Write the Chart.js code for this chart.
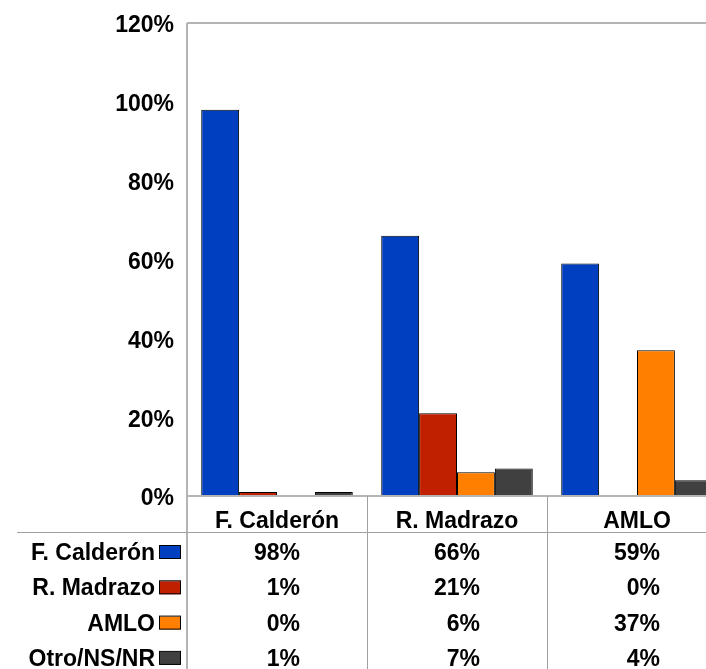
<!DOCTYPE html>
<html>
<head>
<meta charset="utf-8">
<script src="https://cdn.jsdelivr.net/npm/chart.js@4"></script>
<style>
    html, body { margin: 0; padding: 0; background: #fff; overflow: hidden; }
    #wrap { width: 706px; height: 669px; overflow: hidden; }
</style>
</head>
<body>
<div id="wrap"><canvas id="mainChart" width="740" height="669"></canvas></div>
<script>
const categories = ['F. Calderón', 'R. Madrazo', 'AMLO']
const seriesNames = ['F. Calderón', 'R. Madrazo', 'AMLO', 'Otro/NS/NR']
const calderon = [98, 66, 59]
const madrazo = [1, 21, 0]
const amlo = [0, 6, 37]
const otro = [1, 7, 4]
const yTicks = [0, 20, 40, 60, 80, 100, 120]

const colors = ['#0040C0', '#C02000', '#FF8000', '#404040']
const FONT = 'bold 23px "Liberation Sans", Arial, sans-serif'

const series = [calderon, madrazo, amlo, otro].map((values, i) => {
    return {
        label: seriesNames[i],
        data: values,
        backgroundColor: colors[i],
        borderColor: '#000',
        borderWidth: 1,
        barPercentage: 1,
        categoryPercentage: 0.842
    }
})

// frame + data table drawn under the plot
const dataTable = {
    id: 'dataTable',
    afterDraw(chart) {
        const ctx = chart.ctx
        const area = chart.chartArea
        const x = chart.scales.x
        const step = x.getPixelForValue(1) - x.getPixelForValue(0)
        const headerBottom = area.bottom + 36
        ctx.save()

        // plot frame
        ctx.strokeStyle = '#b4b4b4'
        ctx.lineWidth = 2
        ctx.beginPath()
        ctx.moveTo(area.left, area.top)
        ctx.lineTo(area.right, area.top)
        ctx.moveTo(area.left, area.top)
        ctx.lineTo(area.left, chart.height)
        ctx.moveTo(area.left, area.bottom)
        ctx.lineTo(area.right, area.bottom)
        ctx.stroke()

        // table lines
        ctx.strokeStyle = '#a0a0a0'
        ctx.lineWidth = 1
        ctx.beginPath()
        ctx.moveTo(17, headerBottom + 0.5)
        ctx.lineTo(area.right, headerBottom + 0.5)
        categories.forEach((c, i) => {
            if (i === 0) return
            const bx = Math.round(x.getPixelForValue(i) - step / 2) + 0.5
            ctx.moveTo(bx, area.bottom)
            ctx.lineTo(bx, chart.height)
        })
        ctx.stroke()

        ctx.font = FONT
        ctx.fillStyle = '#000'
        ctx.textBaseline = 'alphabetic'

        // header
        ctx.textAlign = 'center'
        categories.forEach((c, i) => {
            ctx.fillText(c, x.getPixelForValue(i), 528)
        })

        // rows: legend key + values
        chart.data.datasets.forEach((ds, r) => {
            const base = 560 + r * 35.3
            ctx.textAlign = 'right'
            ctx.fillStyle = '#000'
            ctx.fillText(ds.label, 155, base)
            ctx.fillStyle = ds.backgroundColor
            ctx.fillRect(159.5, base - 14, 21, 13)
            ctx.strokeStyle = '#000'
            ctx.strokeRect(159.5, base - 14.5, 21, 13)
            ctx.fillStyle = '#000'
            ds.data.forEach((v, i) => {
                ctx.fillText(v + '%', x.getPixelForValue(i) + 23, base)
            })
        })
        ctx.restore()
    }
}

new Chart('mainChart', {
    type: 'bar',
    data: {
        labels: categories,
        datasets: series
    },
    options: {
        responsive: false,
        animation: false,
        layout: {
            padding: { top: 23, right: 13, bottom: 173, left: 0 }
        },
        plugins: {
            legend: { display: false },
            tooltip: { enabled: false }
        },
        scales: {
            x: {
                display: false
            },
            y: {
                min: 0,
                max: 120,
                afterFit(scale) {
                    scale.width = 187
                    scale.paddingTop = 0
                    scale.paddingBottom = 0
                },
                afterBuildTicks(scale) { scale.ticks = yTicks.map(v => ({ value: v })) },
                grid: { display: false, drawTicks: false },
                border: { display: false },
                ticks: {
                    padding: 13,
                    labelOffset: 3,
                    color: '#000',
                    font: { family: '"Liberation Sans", Arial, sans-serif', size: 23, weight: 'bold' },
                    callback: v => v + '%'
                }
            }
        }
    },
    plugins: [dataTable]
})
</script>
</body>
</html>
